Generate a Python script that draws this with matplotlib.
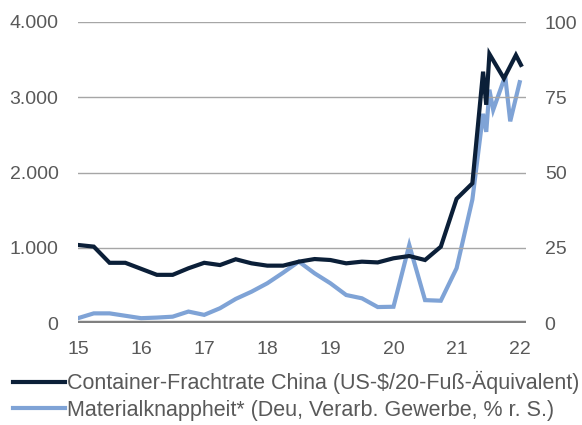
import matplotlib
matplotlib.use("Agg")
import matplotlib.pyplot as plt
from matplotlib.ticker import FuncFormatter

plt.rcParams['font.family'] = ['Liberation Sans', 'DejaVu Sans']

# Container freight rate China (US-$ / TEU), time in decimal years (15 = 2015)
t_freight = [15.00, 15.25, 15.50, 15.75, 16.00, 16.25, 16.50, 16.75, 17.00, 17.25,
             17.50, 17.75, 18.00, 18.25, 18.50, 18.75, 19.00, 19.25, 19.50, 19.75,
             20.00, 20.25, 20.50, 20.75, 21.00, 21.25, 21.42, 21.47, 21.52, 21.75,
             21.94, 22.02]
freight = [1037, 1015, 800, 800, 720, 640, 640, 727, 800, 770,
           847, 793, 762, 762, 815, 850, 837, 793, 815, 805,
           860, 890, 837, 1014, 1650, 1856, 3340, 2900, 3575, 3250,
           3560, 3430]

# Material shortage (Germany, manufacturing, % right axis)
t_shortage = [15.00, 15.25, 15.50, 15.75, 16.00, 16.25, 16.50, 16.75, 17.00, 17.25,
              17.50, 17.75, 18.00, 18.25, 18.50, 18.75, 19.00, 19.25, 19.50, 19.75,
              20.00, 20.25, 20.50, 20.75, 21.00, 21.25, 21.42, 21.47, 21.52, 21.58,
              21.77, 21.85, 22.00]
shortage = [1.6, 3.2, 3.2, 2.4, 1.6, 1.8, 2.1, 3.8, 2.7, 4.9,
            8.0, 10.4, 13.2, 16.7, 20.4, 16.5, 13.2, 9.3, 8.2, 5.3,
            5.4, 25.9, 7.6, 7.4, 18.2, 41.0, 69.5, 63.5, 77.5, 70.8,
            82.0, 67.0, 80.0]

x_ticks = [15, 16, 17, 18, 19, 20, 21, 22]
left_ticks = [0, 1000, 2000, 3000, 4000]
right_ticks = [0, 25, 50, 75, 100]

label_freight = "Container-Frachtrate China (US-$/20-Fuß-Äquivalent)"
label_shortage = "Materialknappheit* (Deu, Verarb. Gewerbe, % r. S.)"

dark = "#0b1f38"
light = "#7fa3d6"
grid_c = "#a6a6a6"
text_c = "#595959"

W, H = 582, 425
fig = plt.figure(figsize=(W / 100, H / 100), dpi=100)
ax_l, ax_r, ax_t, ax_b = 78, 526, 22, 323
ax = fig.add_axes([ax_l / W, 1 - ax_b / H, (ax_r - ax_l) / W, (ax_b - ax_t) / H])
ax2 = ax.twinx()

ax.set_xlim(15, 22.1)
ax.set_ylim(0, 4000)
ax2.set_ylim(0, 100)

for y in left_ticks[1:]:
    ax.axhline(y, color=grid_c, lw=1.0, zorder=0)
ax.axhline(0, color="#808080", lw=3.2, zorder=1)

ax2.plot(t_shortage, shortage, color=light, lw=3.0, solid_joinstyle='miter', zorder=2)
ax.set_zorder(ax2.get_zorder() + 1)
ax.patch.set_visible(False)
ax.plot(t_freight, freight, color=dark, lw=3.0, solid_joinstyle='miter', zorder=3)

for a in (ax, ax2):
    for s in a.spines.values():
        s.set_visible(False)
    a.tick_params(length=0, labelsize=14, colors=text_c)

ax.set_xticks(x_ticks)
ax.set_yticks(left_ticks)
ax.yaxis.set_major_formatter(FuncFormatter(lambda v, p: f"{int(v):,}".replace(",", ".")))
ax2.set_yticks(right_ticks)
ax.tick_params(axis='y', pad=14)
ax2.tick_params(axis='y', pad=13.5)
ax.tick_params(axis='x', pad=13)

h1, = ax.plot([], [], color=dark, lw=3.0)
h2, = ax.plot([], [], color=light, lw=3.0)
fig.legend([h1, h2], [label_freight, label_shortage], loc='upper left',
           bbox_to_anchor=(13 / W, 1 - 371 / H), frameon=False, fontsize=15.5,
           handlelength=2.42, handletextpad=0.1, labelspacing=0.25,
           labelcolor=text_c, borderaxespad=0, borderpad=0)

fig.savefig("out.png", dpi=100)
